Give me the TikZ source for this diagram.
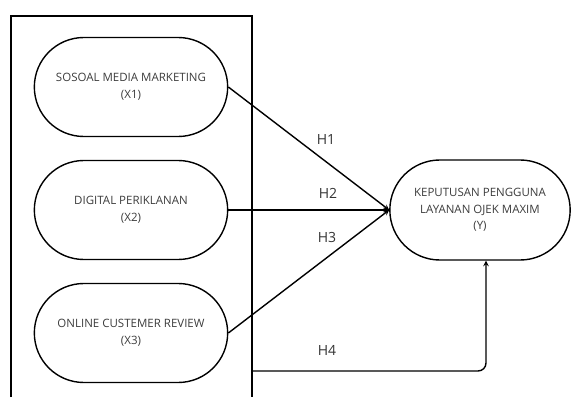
\documentclass[tikz,border=0pt]{standalone}
\usepackage{fontspec}
\setmainfont{Open Sans}
\usetikzlibrary{shapes.misc, arrows}
\definecolor{txtgrey}{HTML}{3C3C3C}
\tikzstyle{varbox} = [rounded rectangle, minimum width=200pt, minimum height=99pt, text centered, align=center, draw=black, line width=1.4pt, font=\fontsize{11.5}{17}\selectfont, text=txtgrey]
\tikzstyle{hyp} = [font=\fontsize{14}{16}\selectfont, text=black!80]
\tikzstyle{arrow} = [line width=1.4pt,->,>=stealth]

\begin{document}
\begin{tikzpicture}[node distance=123pt, x=1pt, y=1pt]
                \useasboundingbox (0,0) rectangle (575,397);
                \draw [line width=1.8pt] (11,0) -- (11,381) -- (252,381) -- (252,0);
                \node (x1) [varbox] at (131,310) {SOSOAL MEDIA MARKETING\\(X1)};
                \node (x2) [varbox, below of=x1] {DIGITAL PERIKLANAN\\(X2)};
                \node (x3) [varbox, below of=x2] {ONLINE CUSTEMER REVIEW\\(X3)};
                \node (y) [varbox, minimum width=187pt, minimum height=100pt, font=\fontsize{11.5}{16.5}\selectfont] at (480,187) {KEPUTUSAN PENGGUNA\\LAYANAN OJEK MAXIM\\(Y)};
                \coordinate (b4) at (252,26);

                \node (h1) [hyp] at (326,257) {H1};
                \node (h2) [hyp] at (328,204) {H2};
                \node (h3) [hyp] at (327,160) {H3};
                \node (h4) [hyp] at (327,47) {H4};

                \draw [arrow] (x1.east) -- (y.west);
                \draw [arrow] (x2.east) -- (y.west);
                \draw [arrow] (x3.east) -- (y.west);
                \draw [arrow, rounded corners=8pt] (b4) -| ([xshift=6pt]y.south);
            \end{tikzpicture}
\end{document}
